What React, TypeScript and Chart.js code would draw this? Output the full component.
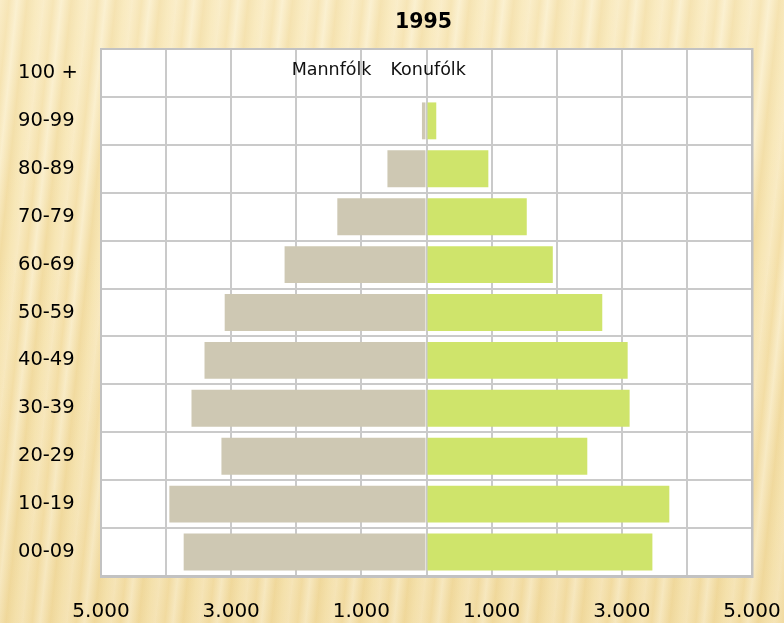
import React, { useEffect, useRef } from 'react';
import { Chart, registerables } from 'chart.js';

Chart.register(...registerables);

const chartTitle = '1995';
const maleLabel = 'Mannfólk';
const femaleLabel = 'Konufólk';
const ageGroups = ['100 +', '90-99', '80-89', '70-79', '60-69', '50-59', '40-49', '30-39', '20-29', '10-19', '00-09'];
const maleValues = [0, 70, 600, 1370, 2180, 3100, 3410, 3610, 3150, 3950, 3730];
const femaleValues = [0, 150, 950, 1540, 1940, 2700, 3090, 3120, 2470, 3730, 3470];
const xLabeledTicks = [-5000, -3000, -1000, 1000, 3000, 5000];

const FONT = '"DejaVu Sans", Verdana, sans-serif';

const fmt = (v: number) => {
  const a = Math.abs(v);
  const s = String(a);
  return s.replace(/\B(?=(\d{3})+(?!\d))/g, '.');
};

const decorPlugin = {
  id: 'decor',
  beforeDraw(chart: any) {
    const { ctx, chartArea } = chart;
    ctx.save();
    ctx.fillStyle = '#ffffff';
    ctx.fillRect(chartArea.left, chartArea.top, chartArea.right - chartArea.left, chartArea.bottom - chartArea.top);
    ctx.restore();
  },
  afterDatasetsDraw(chart: any) {
    const { ctx, chartArea } = chart;
    const { left, right, top, bottom } = chartArea;
    ctx.save();
    ctx.strokeStyle = '#C2C2C2';
    ctx.lineWidth = 2;
    ctx.strokeRect(left, top, right - left, bottom - top);
    ctx.fillStyle = '#C2C2C2';
    ctx.fillRect(left - 1, bottom, right - left + 2, 2);
    ctx.fillRect(right, top - 1, 1.5, bottom - top + 3);
    ctx.restore();
  },
  afterDraw(chart: any) {
    const { ctx, chartArea, scales } = chart;
    const cx = scales.x.getPixelForValue(0);
    ctx.save();
    ctx.fillStyle = '#000';
    ctx.font = `bold 20.5px ${FONT}`;
    ctx.textAlign = 'center';
    ctx.textBaseline = 'alphabetic';
    ctx.fillText(chartTitle, cx - 3, 28);
    ctx.font = `17.5px ${FONT}`;
    ctx.fillStyle = '#111';
    ctx.textAlign = 'right';
    ctx.fillText(maleLabel, cx - 55, chartArea.top + 26);
    ctx.textAlign = 'left';
    ctx.fillText(femaleLabel, cx - 36, chartArea.top + 26);
    ctx.restore();
  },
};

export default function App() {
  const ref = useRef<HTMLCanvasElement | null>(null);
  useEffect(() => {
    if (!ref.current) return;
    const chart = new Chart(ref.current, {
      type: 'bar',
      data: {
        labels: ageGroups,
        datasets: [
          {
            label: maleLabel,
            data: maleValues.map((v) => -v),
            backgroundColor: '#CEC8B3',
            borderWidth: 0,
            categoryPercentage: 0.77,
            barPercentage: 1,
          },
          {
            label: femaleLabel,
            data: femaleValues,
            backgroundColor: '#CFE46B',
            borderWidth: 0,
            categoryPercentage: 0.77,
            barPercentage: 1,
          },
        ],
      },
      options: {
        indexAxis: 'y',
        responsive: false,
        animation: false,
        events: [],
        layout: { padding: { left: 18, right: 32, top: 49, bottom: 0 } },
        plugins: {
          legend: { display: false },
          title: { display: false },
          tooltip: { enabled: false },
        },
        scales: {
          x: {
            stacked: true,
            min: -5000,
            max: 5000,
            border: { display: false },
            grid: { color: '#CACACA', lineWidth: 2, drawTicks: false },
            afterFit: (s: any) => {
              s.height = 47;
              s.paddingLeft = 0;
              s.paddingRight = 0;
            },
            ticks: {
              stepSize: 1000,
              autoSkip: false,
              maxRotation: 0,
              padding: 24,
              color: '#000',
              font: { family: FONT, size: 20 },
              callback: (v: any) => (xLabeledTicks.includes(Number(v)) ? fmt(Number(v)) : ''),
            },
          },
          y: {
            stacked: true,
            border: { display: false },
            grid: { color: '#CACACA', lineWidth: 2, drawTicks: false, offset: true },
            afterFit: (s: any) => {
              s.width = 83;
              s.paddingTop = 0;
              s.paddingBottom = 0;
            },
            ticks: {
              crossAlign: 'far',
              color: '#000',
              font: { family: FONT, size: 19.5 },
            },
          },
        },
      },
      plugins: [decorPlugin],
    } as any);
    return () => chart.destroy();
  }, []);

  return (
    <div
      style={{
        position: 'absolute',
        left: 0,
        top: 0,
        width: 784,
        height: 623,
        overflow: 'hidden',
        background:
          'linear-gradient(to bottom, rgba(255,248,225,0.25), rgba(255,245,215,0) 40%, rgba(225,190,110,0.15)), repeating-linear-gradient(96deg, #f8e9bf 0px, #f4dfa8 9px, #faeecb 17px, #f2dca2 27px, #f7e6b5 36px, #f9eac2 44px)',
      }}
    >
      <canvas ref={ref} width={784} height={623} style={{ display: 'block' }} />
    </div>
  );
}
